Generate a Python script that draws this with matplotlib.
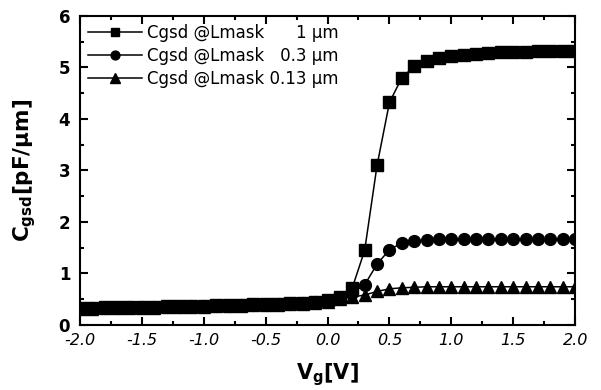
import matplotlib.pyplot as plt
from matplotlib.ticker import MultipleLocator

plt.rcParams['font.family'] = ['DejaVu Sans']

# gate voltage [V]
vg = [-2.0, -1.9, -1.8, -1.7, -1.6, -1.5, -1.4, -1.3, -1.2, -1.1,
      -1.0, -0.9, -0.8, -0.7, -0.6, -0.5, -0.4, -0.3, -0.2, -0.1,
      0.0, 0.1, 0.2, 0.3, 0.4, 0.5, 0.6, 0.7, 0.8, 0.9,
      1.0, 1.1, 1.2, 1.3, 1.4, 1.5, 1.6, 1.7, 1.8, 1.9, 2.0]

# Cgsd [pF/um] for each mask length
c_1um = [0.33, 0.33, 0.34, 0.34, 0.35, 0.35, 0.35, 0.36, 0.36, 0.37,
         0.37, 0.38, 0.38, 0.39, 0.40, 0.40, 0.41, 0.42, 0.43, 0.45,
         0.48, 0.55, 0.72, 1.45, 3.10, 4.32, 4.80, 5.02, 5.12, 5.18,
         5.22, 5.25, 5.27, 5.29, 5.30, 5.31, 5.31, 5.32, 5.32, 5.32, 5.32]
c_03um = [0.32, 0.32, 0.33, 0.33, 0.34, 0.34, 0.34, 0.35, 0.35, 0.36,
          0.36, 0.37, 0.37, 0.38, 0.39, 0.39, 0.40, 0.41, 0.42, 0.44,
          0.46, 0.52, 0.62, 0.78, 1.18, 1.46, 1.59, 1.63, 1.65, 1.66,
          1.66, 1.66, 1.66, 1.67, 1.67, 1.67, 1.67, 1.67, 1.67, 1.67, 1.67]
c_013um = [0.31, 0.31, 0.32, 0.32, 0.33, 0.33, 0.33, 0.34, 0.34, 0.35,
           0.35, 0.36, 0.36, 0.37, 0.38, 0.38, 0.39, 0.40, 0.41, 0.43,
           0.45, 0.50, 0.54, 0.58, 0.65, 0.70, 0.72, 0.73, 0.74, 0.74,
           0.74, 0.74, 0.74, 0.74, 0.74, 0.74, 0.74, 0.74, 0.74, 0.74, 0.74]

labels = ['Cgsd @Lmask \u2007\u2007 1 \u03bcm',
          'Cgsd @Lmask \u20070.3 \u03bcm',
          'Cgsd @Lmask 0.13 \u03bcm']

fig = plt.figure(figsize=(6.01, 3.90), dpi=100)
ax = fig.add_axes([0.133, 0.167, 0.824, 0.792])

ax.plot(vg, c_1um, '-s', color='black', lw=1.1, ms=8, label=labels[0])
ax.plot(vg, c_03um, '-o', color='black', lw=1.1, ms=8.5, label=labels[1])
ax.plot(vg, c_013um, '-^', color='black', lw=1.1, ms=9, label=labels[2])

ax.set_xlim(-2.0, 2.0)
ax.set_ylim(0, 6)
ax.xaxis.set_major_locator(MultipleLocator(0.5))
ax.xaxis.set_minor_locator(MultipleLocator(0.25))
ax.yaxis.set_major_locator(MultipleLocator(1))
ax.yaxis.set_minor_locator(MultipleLocator(0.5))
ax.xaxis.set_major_formatter(plt.FuncFormatter(lambda v, p: '%.1f' % v))

ax.tick_params(which='both', direction='in', top=True, right=True, width=1.5)
ax.tick_params(which='major', length=6)
ax.tick_params(which='minor', length=3)
ax.tick_params(axis='y', labelsize=12, pad=7)
ax.tick_params(axis='x', labelsize=11.5, pad=6)
for t in ax.get_yticklabels():
    t.set_fontweight('bold')
for t in ax.get_xticklabels():
    t.set_fontstyle('italic')
for s in ax.spines.values():
    s.set_linewidth(1.5)

ax.set_xlabel('V$_\\mathbf{g}$[V]', fontsize=15, fontweight='bold', labelpad=9)
ax.set_ylabel('C$_\\mathbf{gsd}$[pF/\u03bcm]', fontsize=15.5, fontweight='bold', labelpad=15)

ax.legend(loc='upper left', frameon=False, fontsize=12, handlelength=3.2,
          handletextpad=0.3, labelspacing=0.28, borderaxespad=0.3,
          borderpad=0.2, markerscale=0.75)

plt.savefig('out.png', dpi=100)
